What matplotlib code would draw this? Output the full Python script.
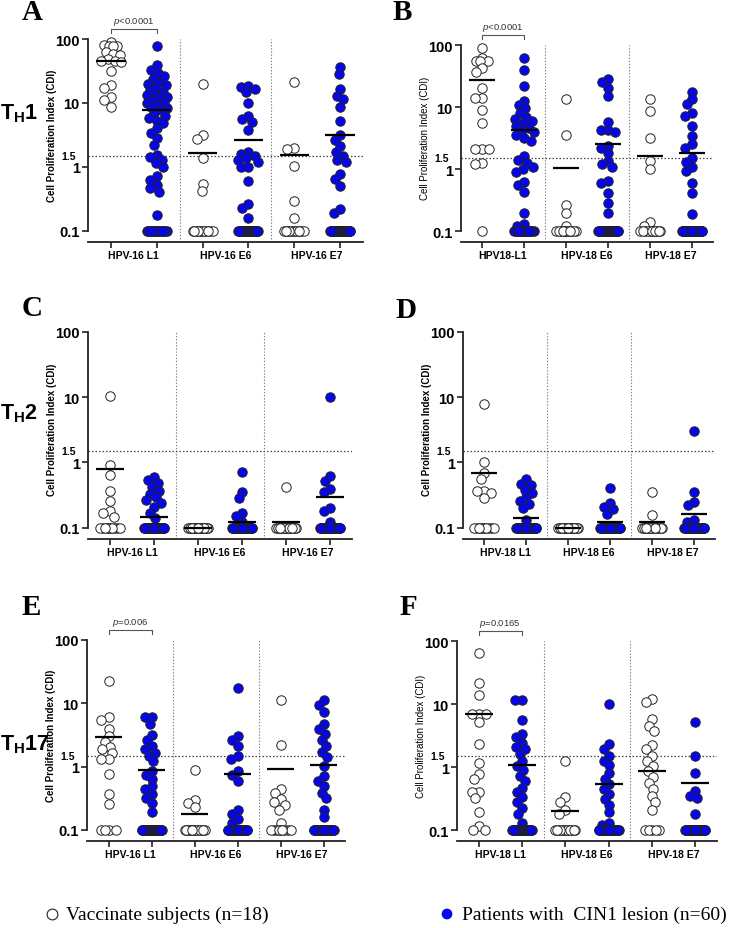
import numpy as np
import matplotlib as mpl
import matplotlib.pyplot as plt

# шрифты
mpl.rcParams['font.family'] = 'Liberation Sans'
mpl.rcParams['mathtext.fontset'] = 'custom'
mpl.rcParams['mathtext.rm'] = 'Liberation Sans'
mpl.rcParams['mathtext.it'] = 'Liberation Sans:italic'
mpl.rcParams['mathtext.bf'] = 'Liberation Sans:bold'

# ---- data (CDI values) ----
A_labels = ['HPV-16 L1', 'HPV-16 E6', 'HPV-16 E7']
A_vac = [[89, 80, 79, 78, 77, 62, 58, 56, 48, 46, 46, 44, 32, 19, 17, 12.5, 11, 8.7],
         [19.9, 3.1, 2.7, 1.36, 0.54, 0.42] + [0.1] * 12,
         [21, 2.0, 1.9, 1.04, 0.29, 0.16] + [0.1] * 12]
A_cin = [[78, 39, 33, 29, 26, 24, 21.5, 20, 19, 17, 16, 15, 14, 13.3, 12.5, 11.8, 11.1,
          10.5, 9.9, 9.3, 8.8, 8.3, 7.8, 6.9, 6.3, 5.8, 5.3, 4.8, 4.0, 3.4, 2.8, 2.2,
          1.54, 1.42, 1.3, 1.14, 1.01, 0.71, 0.63, 0.52, 0.46, 0.41, 0.178] + [0.1] * 17,
         [18.2, 17.5, 16.6, 14.7, 10, 6.3, 5.7, 5.1, 3.8, 1.7, 1.6, 1.5, 1.4, 1.3, 1.2,
          1.0, 0.98, 0.6, 0.26, 0.23, 0.16] + [0.1] * 39,
         [36, 28, 16.3, 13, 11.6, 8.6, 5.3, 3.1, 2.6, 2.1, 1.7, 1.5, 1.3, 1.2, 0.77,
          0.65, 0.5, 0.22, 0.19] + [0.1] * 41]
A_vac_mean = [46, 1.65, 1.55]
A_cin_mean = [7.9, 2.67, 3.1]

B_labels = ['HPV18-L1', 'HPV-18 E6', 'HPV-18 E7']
B_vac = [[88, 62, 55, 55, 55, 43, 37, 20, 14, 14, 9, 5.6, 2.1, 2.1, 2.1, 1.25, 1.2, 0.1],
         [13.4, 3.6, 0.26, 0.2, 0.12] + [0.1] * 13,
         [13.4, 8.7, 3.2, 1.37, 1.0, 0.14, 0.12] + [0.1] * 11]
B_cin = [[62, 40, 21.8, 12.6, 10.7, 9.5, 8, 7, 6.5, 6, 5.5, 5, 4.6, 4.3, 4.0, 3.6, 3.2,
          2.8, 1.6, 1.4, 1.25, 1.1, 1.0, 0.9, 0.63, 0.55, 0.43, 0.2, 0.13, 0.12] + [0.1] * 30,
         [28, 25, 20, 15, 5.8, 4.3, 4.3, 3.9, 2.4, 2.2, 1.8, 1.37, 1.2, 1.1, 0.65, 0.6,
          0.42, 0.29, 0.2] + [0.1] * 41,
         [17.5, 13.4, 11, 8.1, 7.2, 5, 3.4, 2.5, 2.2, 1.5, 1.3, 1.1, 0.94, 0.6, 0.42,
          0.19] + [0.1] * 44]
B_vac_mean = [27, 1.04, 1.64]
B_cin_mean = [4.3, 2.5, 1.8]

C_labels = ['HPV-16 L1', 'HPV-16 E6', 'HPV-16 E7']
C_vac = [[10.6, 0.92, 0.65, 0.37, 0.26, 0.18, 0.17, 0.146] + [0.1] * 10,
         [0.1] * 18,
         [0.42] + [0.1] * 17]
C_cin = [[0.59, 0.53, 0.48, 0.42, 0.37, 0.33, 0.29, 0.27, 0.24, 0.21, 0.17, 0.14] + [0.1] * 48,
         [0.72, 0.35, 0.28, 0.17, 0.15, 0.12] + [0.1] * 54,
         [10, 0.62, 0.52, 0.39, 0.35, 0.2, 0.18, 0.12] + [0.1] * 52]
C_vac_mean = [0.79, 0.1, 0.12]
C_cin_mean = [0.146, 0.122, 0.3]

D_labels = ['HPV-18 L1', 'HPV-18 E6', 'HPV-18 E7']
D_vac = [[7.9, 1.02, 0.7, 0.56, 0.37, 0.37, 0.34, 0.28] + [0.1] * 10,
         [0.1] * 18,
         [0.35, 0.155] + [0.1] * 16]
D_cin = [[0.55, 0.47, 0.45, 0.38, 0.34, 0.29, 0.26, 0.23, 0.2, 0.13] + [0.1] * 50,
         [0.4, 0.24, 0.21, 0.19, 0.16] + [0.1] * 55,
         [3.0, 0.35, 0.25, 0.22, 0.13, 0.12] + [0.1] * 54]
D_vac_mean = [0.7, 0.1, 0.12]
D_cin_mean = [0.14, 0.12, 0.16]

E_labels = ['HPV-16 L1', 'HPV-16 E6', 'HPV-16 E7']
E_vac = [[22.7, 6.0, 5.5, 4.0, 3.06, 2.46, 2.05, 1.88, 1.62, 1.3, 1.3, 0.76, 0.37, 0.26]
         + [0.1] * 4,
         [0.9, 0.3, 0.27, 0.23] + [0.1] * 14,
         [11.3, 2.2, 0.45, 0.38, 0.31, 0.28, 0.25, 0.21, 0.13] + [0.1] * 9]
E_cin = [[6.0, 6.0, 4.7, 3.2, 2.6, 2.1, 1.9, 1.67, 1.5, 1.23, 0.86, 0.75, 0.65, 0.5, 0.44,
          0.37, 0.32, 0.27, 0.19] + [0.1] * 41,
         [17.4, 3.06, 2.6, 2.1, 1.48, 1.3, 0.86, 0.75, 0.6, 0.21, 0.18, 0.15, 0.13] + [0.1] * 47,
         [11.3, 9.4, 7.4, 4.8, 3.9, 3.3, 2.6, 2.1, 1.7, 1.4, 1.03, 0.71, 0.6, 0.5, 0.39,
          0.32, 0.21, 0.16] + [0.1] * 42]
E_vac_mean = [2.99, 0.18, 0.91]
E_cin_mean = [0.88, 0.76, 1.07]

F_labels = ['HPV-18 L1', 'HPV-18 E6', 'HPV-18 E7']
F_vac = [[63.7, 21.8, 13.9, 6.9, 6.9, 6.9, 5.1, 2.3, 1.17, 0.78, 0.64, 0.4, 0.4, 0.32,
          0.19, 0.115, 0.1, 0.1],
         [1.25, 0.33, 0.28, 0.21, 0.18] + [0.1] * 13,
         [12.2, 10.6, 5.7, 4.5, 3.7, 2.2, 1.9, 1.5, 1.25, 1.05, 0.86, 0.7, 0.56, 0.45,
          0.35, 0.28, 0.21] + [0.1] * 5]
F_cin = [[11.6, 11.6, 5.6, 3.4, 3.0, 2.4, 2.1, 1.9, 1.6, 1.25, 1.04, 0.9, 0.72, 0.6, 0.47,
          0.4, 0.33, 0.28, 0.22, 0.18, 0.13] + [0.1] * 39,
         [10, 2.3, 1.9, 1.5, 1.25, 1.06, 0.81, 0.65, 0.53, 0.45, 0.38, 0.31, 0.25, 0.19,
          0.13, 0.12] + [0.1] * 44,
         [5.1, 1.5, 0.79, 0.42, 0.35, 0.32, 0.18] + [0.1] * 53]
F_vac_mean = [6.9, 0.2, 0.88]
F_cin_mean = [1.06, 0.53, 0.56]

BLUE = '#0505f0'
W, H = 739, 929

fig = plt.figure(figsize=(W / 100, H / 100), dpi=100)


def swarm_x(ax, xc, values, d_px=7.0, w_px=10.0):
    # простая раскладка точек (beeswarm) в пикселях
    vals = np.asarray(values, dtype=float)
    pts = ax.transData.transform(np.column_stack([np.full(len(vals), xc), vals]))
    ys = pts[:, 1]
    cands = np.arange(-w_px, w_px + 0.01, 0.5)
    cands = cands[np.argsort(np.abs(cands), kind='stable')]
    offs = np.zeros(len(vals))
    placed = []
    for i in np.argsort(-ys, kind='stable'):
        if not placed:
            best = 0.0
        else:
            P = np.array(placed)
            dd = np.hypot(cands[:, None] - P[None, :, 0], ys[i] - P[None, :, 1]).min(axis=1)
            ok = np.nonzero(dd >= d_px)[0]
            best = cands[ok[0]] if len(ok) else cands[np.argmax(dd)]
        offs[i] = best
        placed.append((best, ys[i]))
    back = ax.transData.inverted().transform(np.column_stack([pts[:, 0] + offs, ys]))
    return back[:, 0]


def panel(box, vac, cin, vac_mean, cin_mean, labels, pval, bold_label):
    left, right, top, bottom = box
    ax = fig.add_axes([left / W, 1 - bottom / H, (right - left) / W, (bottom - top) / H])
    ax.set_yscale('log')
    ax.set_ylim(0.067, 100)
    ax.set_xlim(-0.5, 5.5)
    ax.minorticks_off()

    for s in ['top', 'right']:
        ax.spines[s].set_visible(False)
    ax.spines['left'].set_bounds(0.1, 100)
    for s in ['left', 'bottom']:
        ax.spines[s].set_linewidth(1.3)
        ax.spines[s].set_color('#222222')

    # разделители и порог 1.5
    for xv in [1.5, 3.5]:
        ax.axvline(xv, color='#808080', lw=0.8, ls=(0, (1.2, 1.6)), zorder=1)
    ax.axhline(1.5, color='#444444', lw=0.9, ls=(0, (1.2, 1.6)), zorder=1)

    for g in range(3):
        xv, xc = 2 * g, 2 * g + 1
        xs = swarm_x(ax, xv, vac[g])
        ax.scatter(xs, vac[g], s=46, facecolor='white', edgecolor='#222222',
                   linewidth=0.7, zorder=3, clip_on=False)
        xs = swarm_x(ax, xc, cin[g])
        ax.scatter(xs, cin[g], s=46, facecolor=BLUE, edgecolor='#222222',
                   linewidth=0.7, zorder=3, clip_on=False)
        ax.plot([xv - 0.32, xv + 0.32], [vac_mean[g]] * 2, color='black', lw=1.6, zorder=4,
                solid_capstyle='butt')
        ax.plot([xc - 0.32, xc + 0.32], [cin_mean[g]] * 2, color='black', lw=1.6, zorder=4,
                solid_capstyle='butt')

    # ось Y
    ax.set_yticks([0.1, 1, 10, 100])
    ax.set_yticklabels(['0.1', '1', '10', '100'], fontweight='bold', fontsize=10.5)
    ax.tick_params(axis='y', length=4, width=1.2, pad=2, color='#222222')
    ax.annotate('1.5', xy=(0, 1.5), xycoords=('axes fraction', 'data'),
                xytext=(-9, 0), textcoords='offset points', ha='right', va='center',
                fontsize=7.5, fontweight='bold')
    ax.set_ylabel('Cell Proliferation Index (CDI)', fontsize=7,
                  fontweight='bold' if bold_label else 'normal')
    ax.yaxis.set_label_coords(-31 / (right - left), 0.53)

    # ось X
    ax.set_xticks(range(6))
    ax.set_xticklabels([])
    ax.tick_params(axis='x', which='major', length=4, width=1.2, color='#222222')
    ax.set_xticks([0.5, 2.5, 4.5], minor=True)
    ax.set_xticklabels(labels, minor=True, fontweight='bold', fontsize=7.5)
    ax.tick_params(axis='x', which='minor', length=0, pad=6)

    # p-value
    if pval:
        yb = 1 + 10 / (bottom - top)
        yk = 1 + 6 / (bottom - top)
        tr = ax.get_xaxis_transform()
        ax.plot([0, 0, 1, 1], [yk, yb, yb, yk], color='#555555', lw=0.8,
                transform=tr, clip_on=False)
        ax.text(0.5, yb + 0.01, pval, transform=tr, ha='center', va='bottom',
                fontsize=6.8, color='#333333')
    return ax


panel((88, 363, 40, 243), A_vac, A_cin, A_vac_mean, A_cin_mean, A_labels,
      r'$\mathit{p}$<0.0001', True)
panel((461, 713, 46, 243), B_vac, B_cin, B_vac_mean, B_cin_mean, B_labels,
      r'$\mathit{p}$<0.0001', False)
panel((88, 352, 333, 540), C_vac, C_cin, C_vac_mean, C_cin_mean, C_labels, None, True)
panel((463, 715, 333, 540), D_vac, D_cin, D_vac_mean, D_cin_mean, D_labels, None, True)
panel((87, 345, 641, 842), E_vac, E_cin, E_vac_mean, E_cin_mean, E_labels,
      r'$\mathit{p}$=0.006', True)
panel((457, 717, 642, 842), F_vac, F_cin, F_vac_mean, F_cin_mean, F_labels,
      r'$\mathit{p}$=0.0165', False)

# буквы панелей
for letter, (px, py) in {'A': (22, 13), 'B': (393, 12), 'C': (22, 309), 'D': (395, 311),
                         'E': (22, 608), 'F': (400, 608)}.items():
    fig.text(px / W, 1 - py / H, letter, fontsize=21, fontweight='bold',
             family='Liberation Serif', va='center', ha='left')

# подписи T_H
for txt, py in [(r'$\mathbf{T_H1}$', 114), (r'$\mathbf{T_H2}$', 414), (r'$\mathbf{T_H17}$', 745)]:
    fig.text(0, 1 - py / H, txt, fontsize=15.5, va='center', ha='left')

# легенда
lax = fig.add_axes([0, 0, 1, 1], facecolor='none')
lax.set_xlim(0, W)
lax.set_ylim(H, 0)
lax.axis('off')
lax.scatter([52], [915], s=60, facecolor='white', edgecolor='#222222', linewidth=0.8)
lax.scatter([447], [915], s=60, facecolor=BLUE, edgecolor='none')
fig.text(66 / W, 1 - 915 / H, 'Vaccinate subjects (n=18)', fontsize=14,
         family='Liberation Serif', va='center', ha='left')
fig.text(462 / W, 1 - 915 / H, 'Patients with  CIN1 lesion (n=60)', fontsize=14,
         family='Liberation Serif', va='center', ha='left')

plt.savefig('out.png', dpi=100)
